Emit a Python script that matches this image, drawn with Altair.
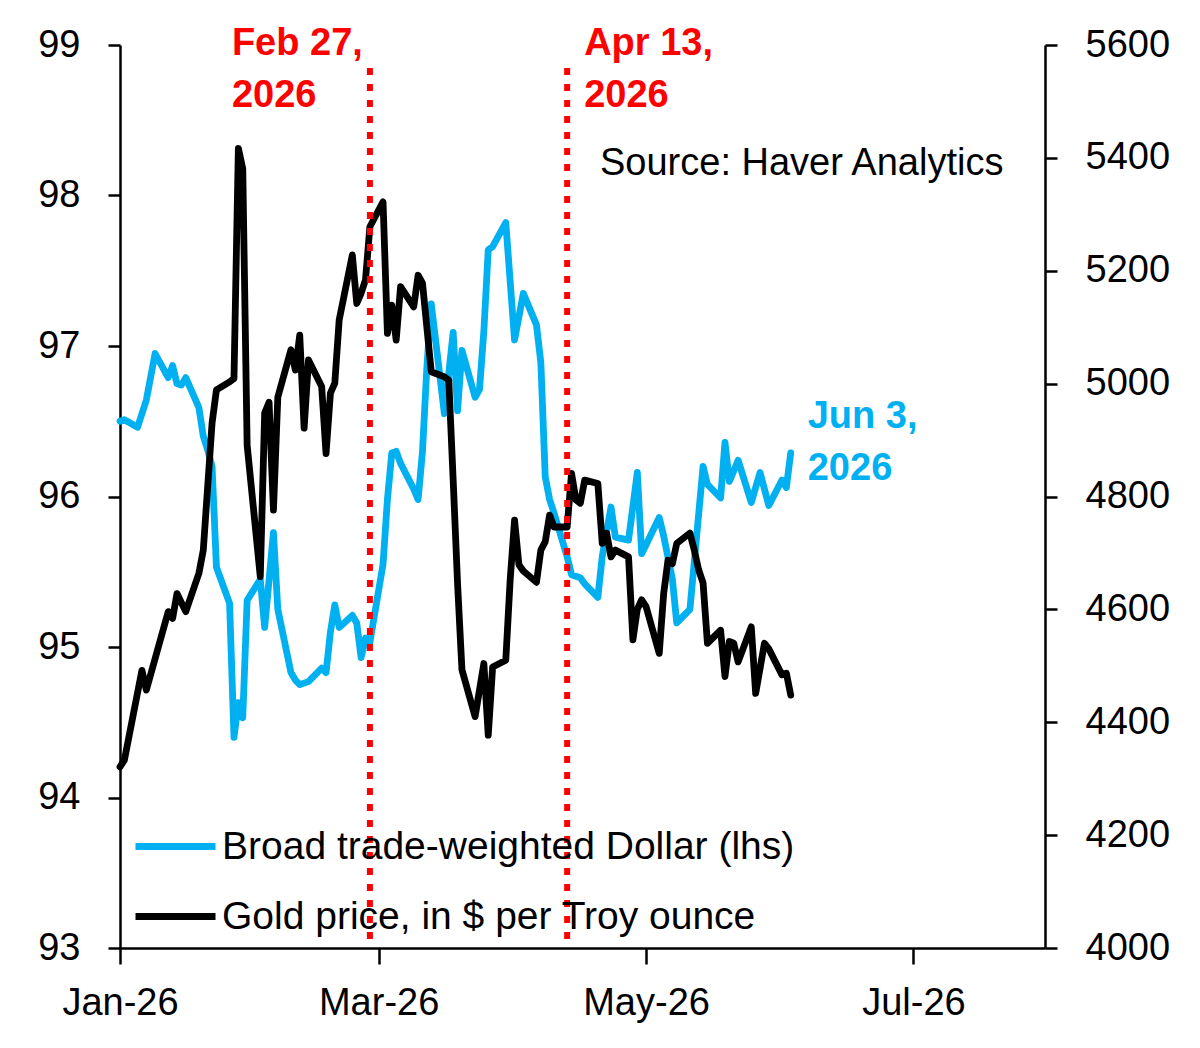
import altair as alt
import pandas as pd

DOLLAR_LABEL = "Broad trade-weighted Dollar (lhs)"
GOLD_LABEL = "Gold price, in $ per Troy ounce"
SOURCE_NOTE = "Source: Haver Analytics"

CYAN = "#00B0F0"
BLACK = "#000000"
RED = "#FF0000"
FONT = "Liberation Sans"
LINE_WIDTH = 6.8

# Broad trade-weighted dollar index (left axis)
dollar_dates = [
    "2026-01-01", "2026-01-02", "2026-01-05", "2026-01-07", "2026-01-09",
    "2026-01-12", "2026-01-13", "2026-01-14", "2026-01-15", "2026-01-16",
    "2026-01-19", "2026-01-20", "2026-01-21", "2026-01-22", "2026-01-23",
    "2026-01-26", "2026-01-27", "2026-01-28", "2026-01-29", "2026-01-30",
    "2026-02-02", "2026-02-03", "2026-02-05", "2026-02-06", "2026-02-09",
    "2026-02-10", "2026-02-11", "2026-02-12", "2026-02-13", "2026-02-16",
    "2026-02-17", "2026-02-18", "2026-02-19", "2026-02-20", "2026-02-23",
    "2026-02-24", "2026-02-25", "2026-02-26", "2026-02-27", "2026-03-02",
    "2026-03-03", "2026-03-04", "2026-03-05", "2026-03-06", "2026-03-09",
    "2026-03-10", "2026-03-11", "2026-03-12", "2026-03-13", "2026-03-16",
    "2026-03-17", "2026-03-18", "2026-03-19", "2026-03-20", "2026-03-23",
    "2026-03-24", "2026-03-25", "2026-03-26", "2026-03-27", "2026-03-30",
    "2026-04-01", "2026-04-03", "2026-04-06", "2026-04-07", "2026-04-08",
    "2026-04-09", "2026-04-10", "2026-04-13", "2026-04-14", "2026-04-16",
    "2026-04-17", "2026-04-20", "2026-04-21", "2026-04-23", "2026-04-24",
    "2026-04-27", "2026-04-29", "2026-04-30", "2026-05-01", "2026-05-04",
    "2026-05-05", "2026-05-07", "2026-05-08", "2026-05-11", "2026-05-14",
    "2026-05-15", "2026-05-18", "2026-05-19", "2026-05-20", "2026-05-22",
    "2026-05-25", "2026-05-27", "2026-05-29", "2026-06-01", "2026-06-02",
    "2026-06-03",
]
dollar_values = [
    96.50, 96.51, 96.46, 96.64, 96.95,
    96.79, 96.87, 96.75, 96.74, 96.79,
    96.59, 96.40, 96.31, 96.20, 95.53,
    95.29, 94.40, 94.63, 94.53, 95.31,
    95.45, 95.13, 95.76, 95.25, 94.83,
    94.78, 94.75, 94.76, 94.77, 94.86,
    94.83, 95.10, 95.28, 95.13, 95.21,
    95.16, 94.93, 95.06, 95.03, 95.55,
    95.98, 96.29, 96.30, 96.22, 96.05,
    95.98, 96.30, 96.86, 97.28, 96.55,
    96.82, 97.09, 96.57, 96.97, 96.66,
    96.71, 97.10, 97.64, 97.66, 97.82,
    97.04, 97.35, 97.14, 96.89, 96.13,
    95.98, 95.89, 95.60, 95.48, 95.46,
    95.42, 95.33, 95.60, 95.93, 95.73,
    95.71, 96.16, 95.62, 95.68, 95.86,
    95.74, 95.45, 95.16, 95.25, 96.20,
    96.08, 95.99, 96.36, 96.10, 96.24,
    95.96, 96.16, 95.94, 96.11, 96.06,
    96.29,
]

# Gold price, $ per troy ounce (right axis)
gold_dates = [
    "2026-01-01", "2026-01-02", "2026-01-06", "2026-01-07", "2026-01-12",
    "2026-01-13", "2026-01-14", "2026-01-16", "2026-01-19", "2026-01-20",
    "2026-01-22", "2026-01-23", "2026-01-26", "2026-01-27", "2026-01-28",
    "2026-01-29", "2026-01-30", "2026-02-02", "2026-02-03", "2026-02-04",
    "2026-02-05", "2026-02-06", "2026-02-09", "2026-02-10", "2026-02-11",
    "2026-02-12", "2026-02-13", "2026-02-16", "2026-02-17", "2026-02-18",
    "2026-02-19", "2026-02-20", "2026-02-23", "2026-02-24", "2026-02-25",
    "2026-02-26", "2026-02-27", "2026-03-02", "2026-03-03", "2026-03-04",
    "2026-03-05", "2026-03-06", "2026-03-09", "2026-03-10", "2026-03-11",
    "2026-03-13", "2026-03-16", "2026-03-17", "2026-03-18", "2026-03-19",
    "2026-03-20", "2026-03-23", "2026-03-25", "2026-03-26", "2026-03-27",
    "2026-03-30", "2026-03-31", "2026-04-01", "2026-04-02", "2026-04-03",
    "2026-04-06", "2026-04-07", "2026-04-08", "2026-04-09", "2026-04-10",
    "2026-04-13", "2026-04-14", "2026-04-15", "2026-04-16", "2026-04-17",
    "2026-04-20", "2026-04-21", "2026-04-22", "2026-04-23", "2026-04-24",
    "2026-04-27", "2026-04-28", "2026-04-29", "2026-04-30", "2026-05-01",
    "2026-05-04", "2026-05-05", "2026-05-06", "2026-05-07", "2026-05-08",
    "2026-05-11", "2026-05-12", "2026-05-13", "2026-05-14", "2026-05-15",
    "2026-05-18", "2026-05-19", "2026-05-20", "2026-05-21", "2026-05-22",
    "2026-05-25", "2026-05-26", "2026-05-28", "2026-05-29", "2026-06-01",
    "2026-06-02", "2026-06-03",
]
gold_values = [
    4321, 4333, 4492, 4457, 4596,
    4584, 4628, 4596, 4664, 4705,
    4930, 4989, 5003, 5009, 5417,
    5381, 4891, 4658, 4948, 4967,
    4776, 4976, 5060, 5024, 5086,
    4921, 5042, 4995, 4876, 4983,
    5001, 5113, 5228, 5142, 5160,
    5184, 5278, 5322, 5089, 5139,
    5077, 5172, 5136, 5192, 5178,
    5021, 5012, 5006, 4829, 4646,
    4493, 4410, 4504, 4377, 4498,
    4510, 4652, 4758, 4679, 4668,
    4648, 4705, 4720, 4767, 4746,
    4746, 4841, 4794, 4788, 4829,
    4823, 4717, 4735, 4693, 4705,
    4693, 4546, 4600, 4617, 4605,
    4522, 4627, 4687, 4681, 4717,
    4735, 4705, 4670, 4647, 4540,
    4563, 4481, 4543, 4540, 4507,
    4569, 4451, 4540, 4530, 4484,
    4487, 4448,
]

event_dates = ["2026-02-27", "2026-04-13"]
event_labels = ["Feb 27,\n2026", "Apr 13,\n2026"]
last_label = "Jun 3,\n2026"

dollar_ticks = [93, 94, 95, 96, 97, 98, 99]
gold_ticks = [4000, 4200, 4400, 4600, 4800, 5000, 5200, 5400, 5600]
month_ticks = [
    alt.DateTime(year=2026, month=1, date=1),
    alt.DateTime(year=2026, month=3, date=1),
    alt.DateTime(year=2026, month=5, date=1),
    alt.DateTime(year=2026, month=7, date=1),
]


def as_local(d):
    return pd.Timestamp(d + "T00:00:00")


dollar_df = pd.DataFrame({
    "date": [as_local(d) for d in dollar_dates],
    "value": dollar_values,
    "series": DOLLAR_LABEL,
})
gold_df = pd.DataFrame({
    "date": [as_local(d) for d in gold_dates],
    "value": gold_values,
    "series": GOLD_LABEL,
})
events_df = pd.DataFrame({
    "date": [as_local(d) for d in event_dates],
    "label": event_labels,
})
last_df = dollar_df.tail(1).assign(label=last_label)

x_enc = alt.X(
    "date:T",
    title=None,
    scale=alt.Scale(domain=[alt.DateTime(year=2026, month=1, date=1),
                            alt.DateTime(year=2026, month=7, date=31)]),
    axis=alt.Axis(
        values=month_ticks, format="%b-%y", grid=False,
        tickSize=16, tickWidth=2.5, tickColor=BLACK,
        domainColor=BLACK, domainWidth=2.5,
        labelFont=FONT, labelFontSize=38, labelColor=BLACK,
        labelPadding=20, labelFlush=False, labelOverlap=False,
    ),
)

color_enc = alt.Color(
    "series:N",
    scale=alt.Scale(domain=[DOLLAR_LABEL, GOLD_LABEL], range=[CYAN, BLACK]),
    legend=alt.Legend(
        title=None, orient="none", legendX=12, legendY=758,
        symbolType="stroke", symbolSize=6400, symbolStrokeWidth=7,
        labelFont=FONT, labelFontSize=39, labelColor=BLACK,
        labelLimit=2000, labelOffset=3, rowPadding=6, padding=0,
    ),
)

left_axis = alt.Axis(
    orient="left", values=dollar_ticks, format="d", grid=False, title=None,
    tickSize=12, tickWidth=2.5, tickColor=BLACK,
    domainColor=BLACK, domainWidth=2.5,
    labelFont=FONT, labelFontSize=38, labelColor=BLACK, labelPadding=28,
)
right_axis = alt.Axis(
    orient="right", values=gold_ticks, format="d", grid=False, title=None,
    tickSize=12, tickWidth=2.5, tickColor=BLACK,
    domainColor=BLACK, domainWidth=2.5,
    labelFont=FONT, labelFontSize=38, labelColor=BLACK, labelPadding=28,
)

dollar_scale = alt.Scale(domain=[93, 99], zero=False, nice=False)
gold_scale = alt.Scale(domain=[4000, 5600], zero=False, nice=False)

dollar_line = alt.Chart(dollar_df).mark_line(
    strokeWidth=LINE_WIDTH, strokeJoin="round", strokeCap="round"
).encode(
    x=x_enc,
    y=alt.Y("value:Q", scale=dollar_scale, axis=left_axis),
    color=color_enc,
)

last_text = alt.Chart(last_df).mark_text(
    align="left", baseline="alphabetic", dx=17, dy=-25,
    font=FONT, fontSize=38, fontWeight="bold", color=CYAN,
    lineBreak="\n", lineHeight=52,
).encode(
    x="date:T",
    y=alt.Y("value:Q", scale=dollar_scale, axis=None),
    text="label:N",
)

gold_line = alt.Chart(gold_df).mark_line(
    strokeWidth=LINE_WIDTH, strokeJoin="round", strokeCap="round"
).encode(
    x=x_enc,
    y=alt.Y("value:Q", scale=gold_scale, axis=right_axis),
    color=color_enc,
)

event_rules = alt.Chart(events_df).mark_rule(
    color=RED, strokeWidth=6, strokeDash=[7, 9]
).encode(
    x="date:T",
    y=alt.value(23),
    y2=alt.value(895),
)


def event_text(index, dx):
    return alt.Chart(events_df.iloc[[index]]).mark_text(
        align="left", baseline="alphabetic", dx=dx,
        font=FONT, fontSize=38, fontWeight="bold", color=RED,
        lineBreak="\n", lineHeight=52,
    ).encode(
        x="date:T",
        y=alt.value(10),
        text="label:N",
    )


source_text = alt.Chart(pd.DataFrame({"label": [SOURCE_NOTE]})).mark_text(
    align="left", baseline="alphabetic",
    font=FONT, fontSize=38, color=BLACK,
).encode(
    x=alt.value(480),
    y=alt.value(130),
    text="label:N",
)

chart = alt.layer(
    dollar_line,
    gold_line,
    last_text,
    event_rules,
    event_text(0, -138),
    event_text(1, 17),
    source_text,
).resolve_scale(
    y="independent"
).properties(
    width=925,
    height=903,
    padding={"left": 120, "top": 45, "right": 155, "bottom": 100},
    autosize=alt.AutoSizeParams(type="none"),
    background="white",
).configure_view(
    stroke=None
)

chart.save("out.html", embed_options={"renderer": "svg", "actions": False})
